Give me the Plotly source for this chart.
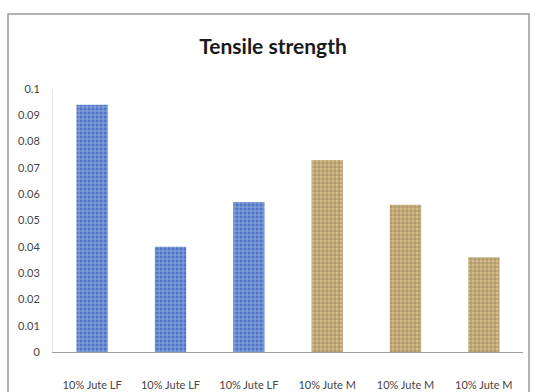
import plotly.graph_objects as go

# Tensile strength per sample
categories = ["10% Jute LF", "10% Jute LF", "10% Jute LF",
              "10% Jute M", "10% Jute M", "10% Jute M"]
strength = [0.094, 0.040, 0.057, 0.073, 0.056, 0.036]
y_ticks = [0, 0.01, 0.02, 0.03, 0.04, 0.05, 0.06, 0.07, 0.08, 0.09, 0.1]
y_tick_text = ["0", "0.01", "0.02", "0.03", "0.04", "0.05", "0.06",
               "0.07", "0.08", "0.09", "0.1"]

positions = list(range(len(categories)))
bg_colors = ["#4f76c6"] * 3 + ["#d6bb82"] * 3
fg_colors = ["#b4c8ee"] * 3 + ["#9a7843"] * 3

W, H = 536, 392
ml, mr, mt, mb = 53, 13, 89, 40
pw, ph = W - ml - mr, H - mt - mb

FONT = "Lato, Liberation Sans Narrow, sans-serif"

fig = go.Figure()
fig.add_trace(go.Bar(
    x=positions,
    y=strength,
    width=0.4,
    marker=dict(
        color=bg_colors,
        line=dict(width=0),
        pattern=dict(shape="+", fgcolor=fg_colors, bgcolor=bg_colors,
                     size=4, solidity=0.3),
    ),
    showlegend=False,
))

# outer chart border
def px_x(p):
    return (p - ml) / pw

def px_y(p):
    return (H - mb - p) / ph

fig.add_shape(type="rect", xref="paper", yref="paper",
              x0=px_x(8), x1=px_x(529), y0=px_y(394), y1=px_y(14),
              line=dict(color="#9a9a9a", width=1.5), layer="below")

fig.update_layout(
    width=W, height=H,
    margin=dict(l=ml, r=mr, t=mt, b=mb, autoexpand=False),
    paper_bgcolor="white",
    plot_bgcolor="white",
    title=dict(text="<b>Tensile strength</b>", x=273 / W, xanchor="center",
               y=1 - 47 / H, yanchor="middle",
               font=dict(family=FONT, size=21, color="#1a1a1a")),
    xaxis=dict(
        range=[-0.5, len(categories) - 0.5],
        tickvals=positions, ticktext=categories,
        showgrid=False, zeroline=False, automargin=False,
        showline=True, linecolor="#a0a0a0", linewidth=1,
        ticks="outside", ticklen=23, tickcolor="rgba(0,0,0,0)",
        tickfont=dict(family=FONT, size=11, color="#444444"),
    ),
    yaxis=dict(
        range=[0, 0.1],
        tickvals=y_ticks, ticktext=y_tick_text,
        showgrid=False, zeroline=False, automargin=False,
        showline=True, linecolor="#e4e4e4", linewidth=1,
        ticks="outside", ticklen=10, tickcolor="rgba(0,0,0,0)",
        tickfont=dict(family=FONT, size=11, color="#444444"),
    ),
)

fig.write_html("out.html")
